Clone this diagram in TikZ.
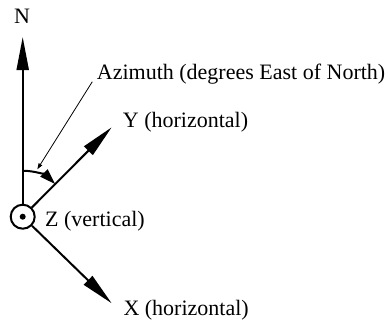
\documentclass[tikz,border=0pt]{standalone}
\usepackage{fontspec}
\setmainfont{Liberation Serif}
\usetikzlibrary{arrows.meta}
\begin{document}
\begin{tikzpicture}[x=1pt,y=1pt,
  axis/.style={line width=2pt,-{Triangle[length=33pt,width=12pt]}},
  lbl/.style={inner sep=0pt,anchor=base west,font=\fontsize{22}{26}\selectfont},
  ]
\useasboundingbox (0,0) rectangle (390,322);
\coordinate (O) at (22.7,105.3);
\node[circle,draw,line width=2pt,minimum size=24pt,inner sep=0pt] (zc) at (O) {};
\fill (O) circle (3pt);
\coordinate (ntip) at (22.7,285);
\coordinate (ytip) at (111.7,194.7);
\coordinate (xtip) at (111.7,18.7);
\draw[axis] (zc) -- (ntip);
\draw[axis] (zc) -- (ytip);
\draw[axis] (zc) -- (xtip);
\draw[line width=2pt,-{Triangle[length=16pt,width=10pt]}] ([shift={(90:46)}]O) arc[start angle=90,end angle=45,radius=46];
\node[lbl,anchor=base] (nl) at (22,298) {N};
\node[lbl] (az) at (96.7,243) {Azimuth (degrees East of North)};
\node[lbl] (yl) at (122.7,194.3) {Y (horizontal)};
\node[lbl] (zl) at (45,96) {Z (vertical)};
\node[lbl] (xl) at (123.3,7) {X (horizontal)};
\coordinate (ls) at (92.3,240.3);
\coordinate (le) at (37.3,152.7);
\draw[line width=0.8pt,-{Triangle[length=6pt,width=4pt]}] (ls) -- (le);
\end{tikzpicture}
\end{document}
